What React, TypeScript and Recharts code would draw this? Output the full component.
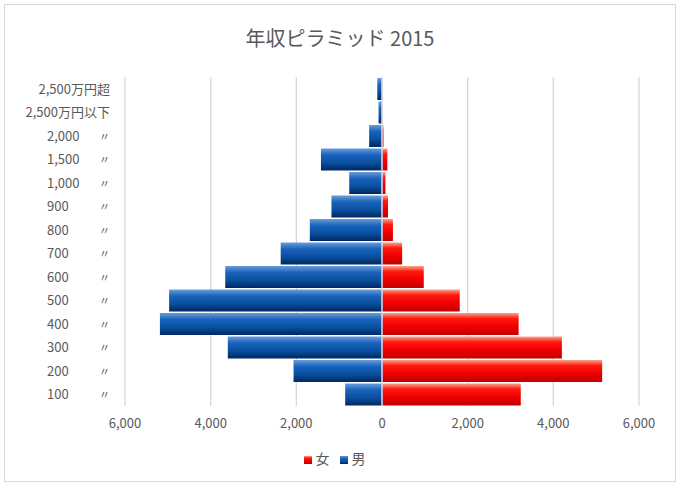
import { BarChart, Bar, XAxis, YAxis, CartesianGrid, Legend, ReferenceLine } from 'recharts';

// bottom to top
const categories = ['100', '200', '300', '400', '500', '600', '700', '800', '900', '1,000', '1,500', '2,000', '2,500万円以下', '2,500万円超'];
const dittoMark = [true, true, true, true, true, true, true, true, true, true, true, true, false, false];
const male = [860, 2065, 3600, 5185, 4970, 3660, 2365, 1685, 1180, 765, 1425, 300, 80, 110];
const female = [3240, 5140, 4200, 3190, 1815, 975, 470, 255, 140, 80, 125, 35, 5, 5];
const xTicks = [-6000, -4000, -2000, 0, 2000, 4000, 6000];

const data = categories.map((c, i) => ({ label: c, ditto: dittoMark[i], male: -male[i], female: female[i] }));

const font = '"Noto Sans CJK JP", "Noto Sans", sans-serif';
const grey = '#595959';

function YTick(props: any) {
  const { y, payload } = props;
  const i = categories.indexOf(payload.value);
  if (dittoMark[i]) {
    return (
      <g>
        <text x={47} y={y} dy={5} fontSize={13} fill={grey} fontFamily={font}>{payload.value}</text>
        <text x={99} y={y} dy={5} fontSize={11} fill={grey} fontFamily={font}>〃</text>
      </g>
    );
  }
  return (
    <text x={110} y={y} dy={5} textAnchor="end" fontSize={13} fill={grey} fontFamily={font}>{payload.value}</text>
  );
}

const fmt = (v: number) => Math.abs(v).toLocaleString('en-US');

export default function App() {
  return (
    <div style={{ position: 'fixed', left: 0, top: 0, width: 680, height: 486, background: '#fff', fontFamily: font }}>
      <div style={{ position: 'absolute', left: 4, top: 4, width: 670, height: 476, border: '1px solid #d9d9d9' }} />
      <div style={{ position: 'absolute', left: 0, top: 23, width: 680, textAlign: 'center', fontSize: 20, color: grey }}>
        年収ピラミッド 2015
      </div>
      <div style={{ position: 'absolute', left: 0, top: 0 }}>
        <BarChart
          width={680}
          height={486}
          data={data}
          layout="vertical"
          stackOffset="sign"
          barCategoryGap={1}
          margin={{ top: 77, right: 41, left: 4, bottom: 30 }}
        >
          <defs>
            <linearGradient id="gRed" x1="0" y1="0" x2="0" y2="1">
              <stop offset="0" stopColor="#f7a58a" />
              <stop offset="0.25" stopColor="#ff1a10" />
              <stop offset="0.6" stopColor="#f00000" />
              <stop offset="1" stopColor="#c00000" />
            </linearGradient>
            <linearGradient id="gBlue" x1="0" y1="0" x2="0" y2="1">
              <stop offset="0" stopColor="#6a9ddb" />
              <stop offset="0.3" stopColor="#1862bb" />
              <stop offset="0.65" stopColor="#0a4f9e" />
              <stop offset="1" stopColor="#002762" />
            </linearGradient>
          </defs>
          <CartesianGrid horizontal={false} stroke="#d9d9d9" strokeWidth={1.3} />
          <XAxis
            type="number"
            domain={[-6000, 6000]}
            ticks={xTicks}
            tickFormatter={fmt}
            axisLine={false}
            tickLine={false}
            tick={{ fontSize: 13, fill: grey, fontFamily: font }}
            tickMargin={7}
            height={30}
          />
          <YAxis
            type="category"
            dataKey="label"
            reversed
            width={121}
            axisLine={false}
            tickLine={false}
            interval={0}
            tick={<YTick />}
          />
          <Bar dataKey="female" name="女" stackId="a" fill="url(#gRed)" isAnimationActive={false} />
          <Bar dataKey="male" name="男" stackId="a" fill="url(#gBlue)" isAnimationActive={false} />
          <ReferenceLine x={0} stroke="#d6e0ee" strokeWidth={1.5} />
          <Legend
            iconType="square"
            iconSize={8}
            wrapperStyle={{ fontSize: 14, color: grey, fontFamily: font, bottom: 18, left: 22 }}
            formatter={(value: string) => <span style={{ color: grey }}>{value}</span>}
          />
        </BarChart>
      </div>
    </div>
  );
}
